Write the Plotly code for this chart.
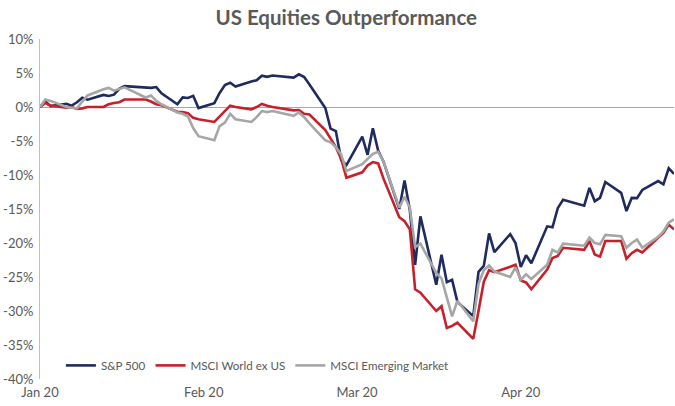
import plotly.graph_objects as go

dates = [
    "2020-01-01", "2020-01-02", "2020-01-03", "2020-01-06", "2020-01-07", "2020-01-08", "2020-01-09", "2020-01-10",
    "2020-01-13", "2020-01-14", "2020-01-15", "2020-01-16", "2020-01-17",
    "2020-01-21", "2020-01-22", "2020-01-23", "2020-01-24",
    "2020-01-27", "2020-01-28", "2020-01-29", "2020-01-30", "2020-01-31",
    "2020-02-03", "2020-02-04", "2020-02-05", "2020-02-06", "2020-02-07",
    "2020-02-10", "2020-02-11", "2020-02-12", "2020-02-13", "2020-02-14",
    "2020-02-18", "2020-02-19", "2020-02-20", "2020-02-21",
    "2020-02-24", "2020-02-25", "2020-02-26", "2020-02-27", "2020-02-28",
    "2020-03-02", "2020-03-03", "2020-03-04", "2020-03-05", "2020-03-06",
    "2020-03-09", "2020-03-10", "2020-03-11", "2020-03-12", "2020-03-13",
    "2020-03-16", "2020-03-17", "2020-03-18", "2020-03-19", "2020-03-20",
    "2020-03-23", "2020-03-24", "2020-03-25", "2020-03-26", "2020-03-27",
    "2020-03-30", "2020-03-31", "2020-04-01", "2020-04-02", "2020-04-03",
    "2020-04-06", "2020-04-07", "2020-04-08", "2020-04-09",
    "2020-04-13", "2020-04-14", "2020-04-15", "2020-04-16", "2020-04-17",
    "2020-04-20", "2020-04-21", "2020-04-22", "2020-04-23", "2020-04-24",
    "2020-04-27", "2020-04-28", "2020-04-29", "2020-04-30",
]

sp500 = [
    0.0, 0.84, 0.13, 0.48, 0.20, 0.69, 1.36, 1.07,
    1.77, 1.62, 1.81, 2.66, 3.06,
    2.79, 2.82, 2.93, 2.00,
    0.40, 1.41, 1.32, 1.64, -0.16,
    0.56, 2.07, 3.22, 3.56, 3.00,
    3.75, 3.93, 4.60, 4.43, 4.62,
    4.32, 4.81, 4.41, 3.31,
    -0.15, -3.17, -3.54, -7.80, -8.56,
    -4.35, -7.04, -3.12, -6.40, -8.00,
    -14.99, -10.79, -15.15, -23.22, -16.09,
    -26.15, -21.72, -25.77, -25.42, -28.66,
    -30.75, -24.25, -23.38, -18.59, -21.34,
    -18.70, -20.00, -23.53, -21.79, -22.97,
    -17.55, -17.69, -14.88, -13.65,
    -14.52, -11.91, -13.85, -13.35, -11.03,
    -12.62, -15.30, -13.36, -13.40, -12.20,
    -10.90, -11.37, -9.02, -9.85,
]

world_ex_us = [
    0.0, 0.6, 0.2, -0.1, 0.0, -0.3, -0.2, 0.0,
    0.0, 0.4, 0.6, 0.7, 1.1,
    1.1, 0.8, 0.4, 0.25,
    -0.7, -0.75, -0.9, -1.6, -1.8,
    -2.2, -1.4, -0.6, 0.2, 0.0,
    -0.35, 0.0, 0.45, 0.2, 0.0,
    -0.5, -0.45, -1.0, -1.1,
    -3.4, -4.6, -5.9, -7.6, -10.4,
    -9.6, -8.6, -8.1, -8.3, -10.5,
    -16.2, -16.8, -18.0, -26.8, -27.3,
    -30.0, -29.3, -32.5, -32.2, -31.7,
    -34.1, -30.0, -25.7, -24.0, -24.3,
    -23.5, -23.2, -25.5, -25.8, -26.8,
    -23.9, -22.2, -21.9, -20.7,
    -21.0, -19.7, -21.7, -22.0, -19.7,
    -19.7, -22.3, -21.5, -21.0, -21.4,
    -19.3, -18.5, -17.3, -18.0,
]

emerging = [
    0.0, 1.1, 0.9, 0.0, -0.1, -0.2, 0.8, 1.7,
    2.6, 2.8, 2.4, 2.6, 2.9,
    1.4, 1.7, 0.9, 0.4,
    -0.8, -1.0, -1.4, -3.1, -4.3,
    -4.9, -2.8, -2.3, -1.0, -1.8,
    -2.2, -1.5, -0.6, -0.75, -0.6,
    -1.3, -0.8, -1.5, -2.4,
    -4.9, -5.2, -5.9, -7.0, -9.4,
    -8.4, -7.6, -6.9, -6.6, -8.0,
    -14.8, -13.2, -14.8, -20.6, -20.1,
    -24.4, -25.2, -28.0, -30.8, -28.5,
    -31.5, -26.0, -24.0, -23.3, -24.2,
    -25.0, -23.6, -25.4, -24.6, -25.3,
    -23.2, -21.0, -21.4, -20.1,
    -20.4, -19.2, -20.0, -20.2, -18.8,
    -19.0, -20.7, -20.0, -19.5, -20.7,
    -19.1, -18.3, -17.0, -16.5,
]

series_names = ["S&P 500", "MSCI World ex US", "MSCI Emerging Market"]
series_values = [sp500, world_ex_us, emerging]
series_colors = ["#1f2b5e", "#c8202a", "#a6a6a6"]

x_tick_vals = ["2020-01-01", "2020-02-01", "2020-03-01", "2020-04-01"]
x_tick_text = ["Jan 20", "Feb 20", "Mar 20", "Apr 20"]
y_tick_vals = [10, 5, 0, -5, -10, -15, -20, -25, -30, -35, -40]
y_tick_text = [f"{v}%" for v in y_tick_vals]

FONT = "Lato, 'Open Sans', sans-serif"

fig = go.Figure()
for name, vals, col in zip(series_names, series_values, series_colors):
    fig.add_trace(go.Scatter(
        x=dates, y=vals, name=name, mode="lines",
        line=dict(color=col, width=2.6),
    ))

fig.update_layout(
    width=675, height=406,
    margin=dict(l=40, r=1, t=39, b=27),
    paper_bgcolor="white", plot_bgcolor="white",
    font=dict(family=FONT, size=12, color="#595959"),
    title=dict(text="<b>US Equities Outperformance</b>", x=0.513, xanchor="center",
               y=0.955, yanchor="middle",
               font=dict(family=FONT, size=20.5, color="#595959")),
    showlegend=True,
    legend=dict(orientation="h", x=0.033, xanchor="left", y=0.04, yanchor="middle",
                font=dict(family=FONT, size=11.6, color="#595959"),
                bgcolor="rgba(0,0,0,0)", itemwidth=30, tracegroupgap=0),
    xaxis=dict(
        type="date", range=["2020-01-01", "2020-04-30"], automargin=False,
        tickmode="array", tickvals=x_tick_vals, ticktext=x_tick_text,
        ticklabelstandoff=4,
        showgrid=False, showline=False, zeroline=False, ticks="",
        tickfont=dict(family=FONT, size=13, color="#595959"),
    ),
    yaxis=dict(
        range=[-40, 10], tickmode="array", tickvals=y_tick_vals, ticktext=y_tick_text,
        automargin=False, ticklabelstandoff=3,
        showgrid=False, showline=True, linecolor="#bfbfbf", linewidth=1,
        zeroline=True, zerolinecolor="#a6a6a6", zerolinewidth=1,
        ticks="", tickfont=dict(family=FONT, size=13, color="#595959"),
    ),
)

fig.write_html("out.html", config={"displayModeBar": False},
               post_script="document.body.style.margin='0';")
